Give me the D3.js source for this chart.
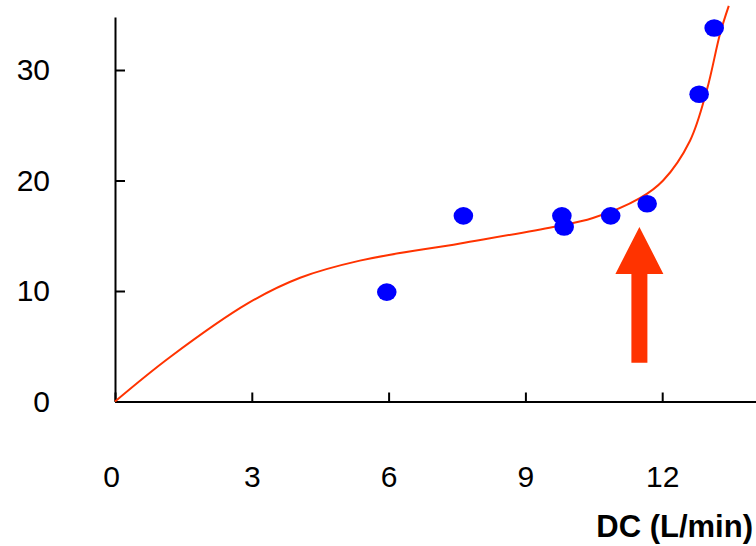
<!DOCTYPE html>
<html>
<head>
<meta charset="utf-8">
<script src="https://cdn.jsdelivr.net/npm/d3@7"></script>
<style>
  html, body { margin: 0; padding: 0; background: #fff; }
  svg { display: block; }
</style>
</head>
<body>
<svg id="chart" width="756" height="546"></svg>
<script>
// Measured points: cardiac output (DC, L/min) against the plotted variable
const dcValues = [5.96, 7.64, 9.80, 9.85, 10.87, 11.67, 12.81, 13.14];
const yValues  = [9.9, 16.8, 16.8, 15.8, 16.8, 17.9, 27.8, 33.8];

// Fitted trend curve, sampled along its course
const curveX = [0, 1.21, 2.92, 4.06, 5.37, 7.57, 9.61, 10.48, 11.51, 12.02, 12.61, 12.98, 13.27, 13.46];
const curveY = [0, 4.03, 8.9, 11.2, 12.75, 14.3, 15.8, 16.6, 18.4, 20.0, 23.6, 28.2, 33.3, 35.8];

const xTicks = [0, 3, 6, 9, 12];
const yTicks = [0, 10, 20, 30];
const xTitle = "DC (L/min)";

// Upward arrow marking the break point of the curve
const arrowX = 11.5, arrowTop = 15.8, arrowBottom = 3.5;

const W = 756, H = 546;
const originX = 115, originY = 401.5;
const pxPerX = 45.6, pxPerY = 11.05;

const x = d3.scaleLinear()
  .domain([0, (W - originX) / pxPerX])
  .range([originX, W]);
const y = d3.scaleLinear()
  .domain([0, (originY - 17) / pxPerY])
  .range([originY, 17]);

const svg = d3.select("#chart");
svg.append("rect").attr("width", W).attr("height", H).attr("fill", "#fff");

const red = "#ff3300";
const font = "'Liberation Sans', Arial, Helvetica, sans-serif";

// Axes with inward ticks
const yAxis = d3.axisLeft(y).tickValues(yTicks).tickFormat(d3.format("d"))
  .tickSizeInner(-10).tickSizeOuter(0).tickPadding(65);
const xAxis = d3.axisBottom(x).tickValues(xTicks).tickFormat(d3.format("d"))
  .tickSizeInner(-9).tickSizeOuter(0).tickPadding(64);

const gy = svg.append("g").attr("transform", `translate(${originX},0)`).call(yAxis);
const gx = svg.append("g").attr("transform", `translate(0,${originY})`).call(xAxis);

[gx, gy].forEach(g => {
  g.attr("font-size", null).attr("font-family", null);
  g.selectAll("path.domain").attr("stroke", "#000").attr("stroke-width", 2);
  g.selectAll(".tick line").attr("stroke", "#000").attr("stroke-width", 2);
  g.selectAll(".tick text")
    .attr("fill", "#000")
    .style("font-family", font)
    .style("font-size", "30px");
});
gy.selectAll(".tick text").attr("x", 50 - originX);
gx.selectAll(".tick text").filter(d => d === 0).attr("x", -4);

// Axis title
svg.append("text")
  .attr("x", 753).attr("y", 537)
  .attr("text-anchor", "end")
  .style("font-family", font)
  .style("font-size", "31px")
  .style("font-weight", "bold")
  .attr("fill", "#000")
  .text(xTitle);

// Trend curve
const curvePts = curveX.map((d, i) => [d, curveY[i]]);
svg.append("path")
  .datum(curvePts)
  .attr("fill", "none")
  .attr("stroke", red)
  .attr("stroke-width", 2)
  .attr("d", d3.line().x(d => x(d[0])).y(d => y(d[1])).curve(d3.curveCatmullRom.alpha(0.5)));

// Data points
svg.append("g").selectAll("ellipse")
  .data(dcValues.map((d, i) => [d, yValues[i]]))
  .join("ellipse")
  .attr("cx", d => x(d[0]))
  .attr("cy", d => y(d[1]))
  .attr("rx", 9.8)
  .attr("ry", 8.8)
  .attr("fill", "#0000ff");

// Arrow
const ax = x(arrowX), at = y(arrowTop), ab = y(arrowBottom);
const headW = 24, headL = 47, shaftW = 8;
svg.append("path")
  .attr("fill", red)
  .attr("d", [
    [ax, at], [ax + headW, at + headL], [ax + shaftW, at + headL],
    [ax + shaftW, ab], [ax - shaftW, ab], [ax - shaftW, at + headL],
    [ax - headW, at + headL]
  ].map((p, i) => (i ? "L" : "M") + p[0] + "," + p[1]).join("") + "Z");
</script>
</body>
</html>
